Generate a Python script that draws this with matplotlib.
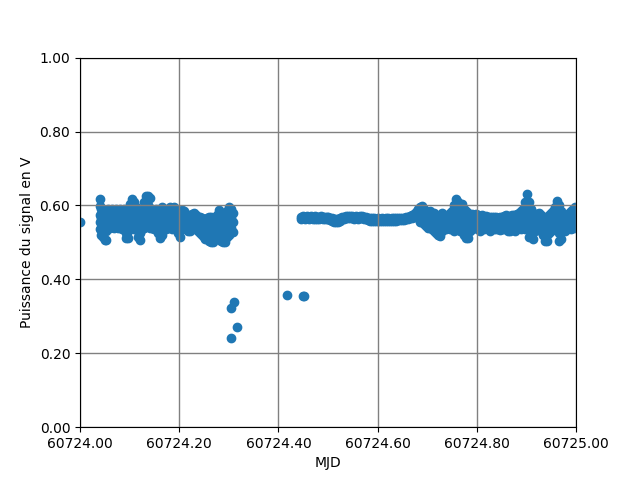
import numpy as np
import matplotlib
matplotlib.use("Agg")
import matplotlib.pyplot as plt
from matplotlib.ticker import FormatStrFormatter, MultipleLocator

MJD0 = 60724.0

# first isolated sample
start_t = [0.0]
start_p = [0.555]

# morning cluster: time offset (days) -> samples read at that time
morning_t = [0.040, 0.043, 0.046, 0.050, 0.053, 0.057, 0.061, 0.065, 0.069, 0.073,
             0.077, 0.081, 0.085, 0.089, 0.093, 0.097, 0.101, 0.105, 0.109, 0.113,
             0.117, 0.121, 0.125, 0.129, 0.133, 0.137, 0.141, 0.145, 0.149, 0.153,
             0.157, 0.161, 0.165, 0.169, 0.173, 0.177, 0.181, 0.185, 0.189, 0.193,
             0.197, 0.201, 0.205, 0.209, 0.213, 0.217, 0.221, 0.225, 0.229, 0.233,
             0.237, 0.241, 0.245, 0.249, 0.253, 0.257, 0.261, 0.265, 0.269, 0.273,
             0.277, 0.281, 0.285, 0.289, 0.293, 0.297, 0.301, 0.305, 0.309]
morning_p = [
    [0.617, 0.598, 0.575, 0.555, 0.535], [0.59, 0.565, 0.54, 0.52], [0.58, 0.555, 0.53, 0.515],
    [0.57, 0.545, 0.507], [0.585, 0.56, 0.53, 0.507], [0.59, 0.565, 0.54],
    [0.585, 0.56, 0.54], [0.59, 0.57, 0.545], [0.58, 0.555, 0.54],
    [0.59, 0.565, 0.545], [0.585, 0.56, 0.54], [0.59, 0.57, 0.55],
    [0.58, 0.555, 0.535], [0.59, 0.565, 0.54], [0.575, 0.55, 0.525, 0.512],
    [0.585, 0.56, 0.53, 0.512], [0.605, 0.58, 0.555], [0.618, 0.59, 0.565, 0.54],
    [0.61, 0.585, 0.56, 0.535], [0.595, 0.57, 0.545], [0.58, 0.555, 0.53, 0.515],
    [0.575, 0.55, 0.525, 0.507], [0.59, 0.56, 0.535], [0.61, 0.585, 0.56, 0.54],
    [0.626, 0.6, 0.575, 0.55], [0.626, 0.6, 0.57, 0.545], [0.62, 0.59, 0.565, 0.54],
    [0.59, 0.565, 0.54], [0.585, 0.56, 0.535], [0.59, 0.565, 0.54],
    [0.58, 0.55, 0.525], [0.575, 0.545, 0.512], [0.596, 0.57, 0.545, 0.52],
    [0.59, 0.565, 0.54], [0.585, 0.56, 0.535], [0.59, 0.565, 0.54],
    [0.596, 0.57, 0.545], [0.59, 0.56, 0.535], [0.596, 0.57, 0.545],
    [0.585, 0.56, 0.535], [0.58, 0.55, 0.525], [0.575, 0.545, 0.515],
    [0.588, 0.56, 0.535], [0.585, 0.56, 0.54], [0.575, 0.555, 0.535],
    [0.575, 0.55, 0.53], [0.57, 0.55, 0.53], [0.578, 0.555, 0.535],
    [0.58, 0.56, 0.54], [0.575, 0.555, 0.535], [0.57, 0.55, 0.53],
    [0.57, 0.545, 0.525], [0.565, 0.545, 0.52], [0.56, 0.54, 0.515],
    [0.56, 0.535, 0.51], [0.565, 0.54, 0.515], [0.57, 0.545, 0.52, 0.505],
    [0.57, 0.54, 0.515, 0.501], [0.565, 0.535, 0.51, 0.501], [0.56, 0.535, 0.51],
    [0.575, 0.55, 0.525], [0.588, 0.565, 0.54], [0.58, 0.555, 0.53, 0.505],
    [0.575, 0.55, 0.525, 0.501], [0.57, 0.545, 0.52, 0.501], [0.585, 0.56, 0.535, 0.515],
    [0.596, 0.57, 0.545, 0.52], [0.59, 0.565, 0.54], [0.58, 0.555, 0.527],
]

# signal drops
drop_t = [0.3044, 0.3044, 0.3105, 0.3165, 0.4173, 0.4496, 0.4516]
drop_p = [0.241, 0.322, 0.339, 0.271, 0.358, 0.356, 0.356]

# quiet afternoon band
band_t = [0.445, 0.449, 0.453, 0.457, 0.461, 0.465, 0.469, 0.473, 0.477, 0.481,
          0.485, 0.489, 0.493, 0.497, 0.501, 0.505, 0.509, 0.513, 0.517, 0.521,
          0.525, 0.529, 0.533, 0.537, 0.541, 0.545, 0.549, 0.553, 0.557, 0.561,
          0.565, 0.569, 0.573, 0.577, 0.581, 0.585, 0.589, 0.593, 0.597, 0.601,
          0.605, 0.609, 0.613, 0.617, 0.621, 0.625, 0.629, 0.633, 0.637, 0.641,
          0.645, 0.649, 0.653, 0.657, 0.661, 0.665, 0.669, 0.673, 0.677, 0.681]
band_p = [
    [0.570, 0.564], [0.571, 0.565], [0.570, 0.564], [0.572, 0.565], [0.570, 0.563],
    [0.571, 0.565], [0.570, 0.564], [0.571, 0.564], [0.569, 0.563], [0.570, 0.564],
    [0.571, 0.565], [0.570, 0.563], [0.569, 0.563], [0.570, 0.564], [0.568, 0.562],
    [0.567, 0.561], [0.565, 0.559], [0.563, 0.556], [0.562, 0.555], [0.563, 0.556],
    [0.565, 0.559], [0.568, 0.562], [0.570, 0.564], [0.571, 0.565], [0.572, 0.566],
    [0.571, 0.565], [0.572, 0.566], [0.570, 0.564], [0.571, 0.565], [0.570, 0.564],
    [0.572, 0.565], [0.571, 0.565], [0.570, 0.564], [0.568, 0.562], [0.566, 0.560],
    [0.565, 0.559], [0.566, 0.559], [0.565, 0.558], [0.564, 0.558], [0.565, 0.558],
    [0.564, 0.558], [0.565, 0.559], [0.564, 0.558], [0.565, 0.558], [0.566, 0.559],
    [0.564, 0.558], [0.565, 0.559], [0.566, 0.559], [0.565, 0.558], [0.566, 0.560],
    [0.567, 0.560], [0.566, 0.560], [0.567, 0.561], [0.568, 0.562], [0.570, 0.563],
    [0.572, 0.565], [0.575, 0.566], [0.578, 0.568], [0.583, 0.570], [0.590, 0.572],
]

# noisy evening cluster
evening_t = [0.685, 0.690, 0.694, 0.698, 0.702, 0.706, 0.710, 0.714, 0.718, 0.722,
             0.726, 0.730, 0.734, 0.738, 0.742, 0.746, 0.750, 0.754, 0.758, 0.762,
             0.766, 0.770, 0.774, 0.778, 0.782, 0.786, 0.790, 0.794, 0.798, 0.802,
             0.806, 0.810, 0.814, 0.818, 0.822, 0.826, 0.830, 0.834, 0.838, 0.842,
             0.846, 0.850, 0.854, 0.858, 0.862, 0.866, 0.870, 0.874, 0.878, 0.882,
             0.886, 0.890, 0.894, 0.898, 0.901, 0.905, 0.909, 0.913, 0.917, 0.921,
             0.925, 0.929, 0.933, 0.937, 0.941, 0.945, 0.949, 0.953, 0.957, 0.961,
             0.965, 0.969, 0.973, 0.977, 0.981, 0.985, 0.989, 0.993, 0.997, 1.000]
evening_p = [
    [0.596, 0.575, 0.555], [0.598, 0.578, 0.56], [0.59, 0.57, 0.55], [0.583, 0.56, 0.545],
    [0.58, 0.56, 0.54], [0.585, 0.56, 0.54], [0.575, 0.555, 0.535], [0.58, 0.555, 0.53],
    [0.575, 0.55, 0.525], [0.57, 0.545, 0.52], [0.575, 0.545, 0.518], [0.58, 0.555, 0.53],
    [0.575, 0.55, 0.535], [0.57, 0.55, 0.535], [0.575, 0.555, 0.54], [0.58, 0.555, 0.535],
    [0.585, 0.56, 0.536], [0.6, 0.575, 0.55, 0.53], [0.618, 0.595, 0.57, 0.545],
    [0.61, 0.585, 0.56, 0.54], [0.6, 0.575, 0.55, 0.53], [0.604, 0.58, 0.555, 0.53],
    [0.59, 0.565, 0.54, 0.52], [0.585, 0.56, 0.535, 0.513], [0.58, 0.555, 0.53, 0.513],
    [0.575, 0.55, 0.53], [0.578, 0.555, 0.535], [0.575, 0.555, 0.54], [0.578, 0.56, 0.54],
    [0.575, 0.555, 0.535], [0.57, 0.55, 0.53], [0.575, 0.555, 0.535], [0.57, 0.55, 0.535],
    [0.572, 0.555, 0.54], [0.57, 0.55, 0.535], [0.568, 0.55, 0.532], [0.57, 0.552, 0.535],
    [0.568, 0.55, 0.535], [0.57, 0.553, 0.537], [0.565, 0.55, 0.535], [0.568, 0.55, 0.533],
    [0.57, 0.552, 0.535], [0.572, 0.555, 0.537], [0.575, 0.555, 0.535], [0.57, 0.55, 0.53],
    [0.572, 0.55, 0.53], [0.575, 0.555, 0.535], [0.575, 0.555, 0.535], [0.57, 0.55, 0.53],
    [0.578, 0.555, 0.535], [0.58, 0.56, 0.54], [0.585, 0.56, 0.535], [0.59, 0.565, 0.54],
    [0.61, 0.585, 0.56, 0.535], [0.631, 0.605, 0.58, 0.555],
    [0.61, 0.585, 0.56, 0.535, 0.515], [0.59, 0.565, 0.54, 0.515],
    [0.58, 0.555, 0.53, 0.51], [0.575, 0.55, 0.53], [0.578, 0.555, 0.535],
    [0.58, 0.56, 0.54], [0.575, 0.55, 0.53], [0.57, 0.545, 0.52],
    [0.565, 0.54, 0.515, 0.504], [0.57, 0.545, 0.52, 0.504], [0.575, 0.55, 0.525],
    [0.58, 0.555, 0.53], [0.585, 0.56, 0.535], [0.595, 0.57, 0.545],
    [0.613, 0.59, 0.565, 0.54], [0.6, 0.575, 0.55, 0.525, 0.504],
    [0.585, 0.56, 0.535, 0.51], [0.575, 0.55, 0.53], [0.57, 0.55, 0.53],
    [0.575, 0.555, 0.535], [0.58, 0.56, 0.54], [0.585, 0.56, 0.535],
    [0.59, 0.565, 0.54], [0.595, 0.57, 0.545], [0.59, 0.565, 0.54],
]


def flatten(times, groups):
    xs, ys = [], []
    for t, g in zip(times, groups):
        for v in g:
            xs.append(t)
            ys.append(v)
    return xs, ys


mx, my = flatten(morning_t, morning_p)
bx, by = flatten(band_t, band_p)
ex, ey = flatten(evening_t, evening_p)

t = np.array(start_t + mx + drop_t + bx + ex) + MJD0
p = np.array(start_p + my + drop_p + by + ey)

fig, ax = plt.subplots(figsize=(6.4, 4.8), dpi=100)
ax.scatter(t, p)
ax.set_xlim(60724.0, 60725.0)
ax.set_ylim(0, 1)
ax.xaxis.set_major_locator(MultipleLocator(0.2))
ax.yaxis.set_major_locator(MultipleLocator(0.2))
ax.xaxis.set_major_formatter(FormatStrFormatter('%.2f'))
ax.yaxis.set_major_formatter(FormatStrFormatter('%.2f'))
ax.grid(color='gray', linewidth=1)
ax.set_xlabel('MJD')
ax.set_ylabel('Puissance du signal en V')
fig.savefig('out.png')
